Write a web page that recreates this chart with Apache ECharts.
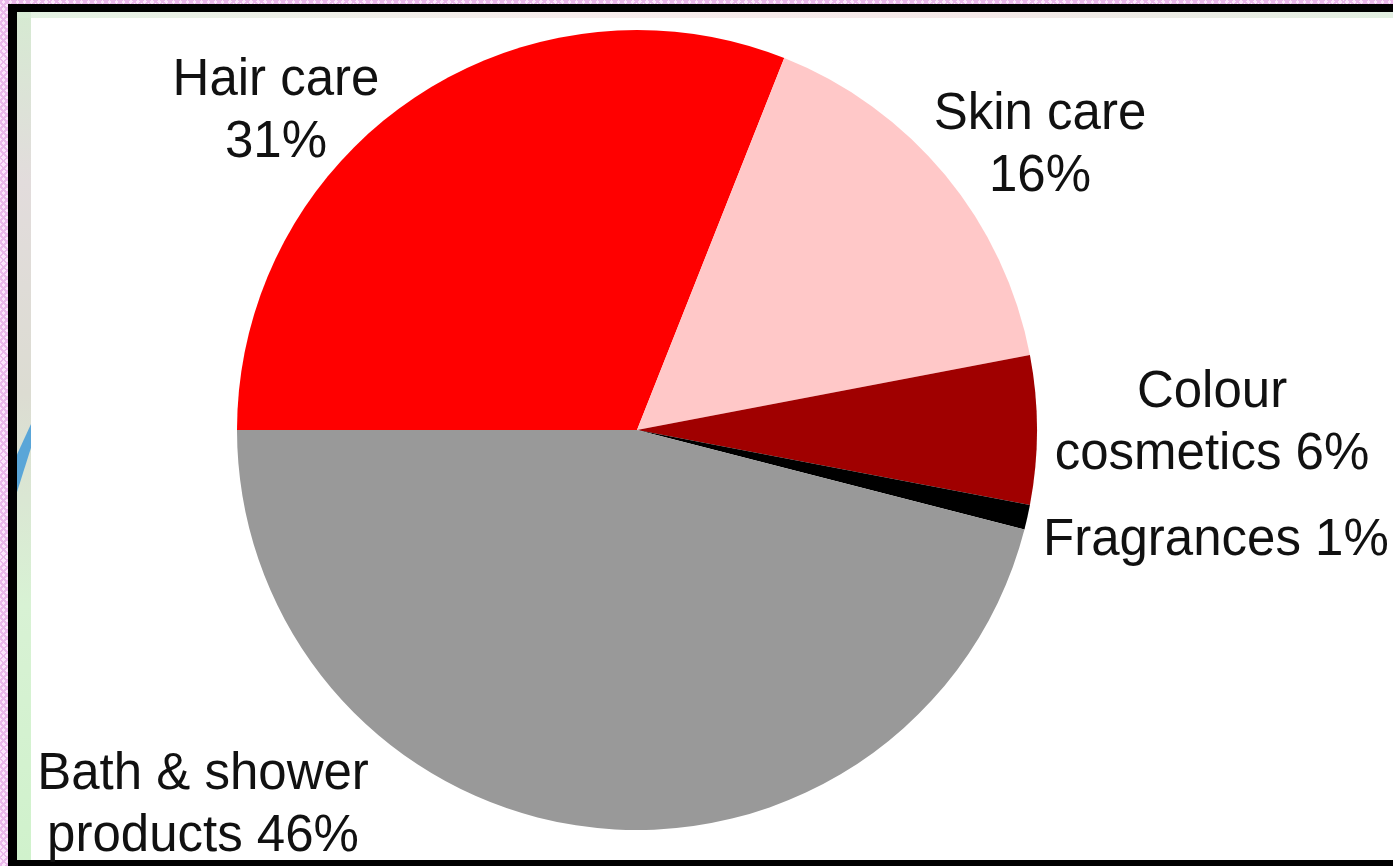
<!DOCTYPE html>
<html>
<head>
<meta charset="utf-8">
<script src="https://cdn.jsdelivr.net/npm/echarts@6/dist/echarts.min.js"></script>
<style>
  html, body { margin: 0; padding: 0; width: 1393px; height: 866px; overflow: hidden; }
  #bg { position: absolute; left: 0; top: 0; width: 1393px; height: 866px;
        background-color: #fbe6fb;
        background-image: repeating-linear-gradient(45deg, #eab8ea 0 2px, transparent 2px 5px),
                          repeating-linear-gradient(-45deg, #eab8ea 0 2px, transparent 2px 5px); }
  #frame { position: absolute; left: 8px; top: 4px; width: 1385px; height: 862px; box-sizing: border-box;
           border-left: 9px solid #000; border-top: 8px solid #000; border-bottom: 6px solid #000; background: #fff; }
  #strip { position: absolute; left: 17px; top: 12px; width: 14px; height: 848px;
           background: linear-gradient(to bottom, #d6ead2 0%, #e2dcdc 20%, #dcdcd2 45%, #d8f2d4 70%, #d0f2cc 100%); }
  #topstrip { position: absolute; left: 17px; top: 12px; width: 1376px; height: 6px;
           background: linear-gradient(to right, #d8ecd6, #f4e4e4 40%, #f0dede 70%, #d6e8d4); opacity: 0.7; }
  #blue { position: absolute; left: 17px; top: 424px; width: 14px; height: 68px; background: #5aa6d8;
          clip-path: polygon(100% 0, 100% 35%, 0 100%, 0 45%); }
  #chart { position: absolute; left: 0; top: 0; width: 1393px; height: 866px; }
</style>
</head>
<body>
<div id="bg"></div>
<div id="frame"></div>
<div id="strip"></div>
<div id="topstrip"></div>
<div id="blue"></div>
<div id="chart"></div>
<script>
const categories = ["Hair care", "Skin care", "Colour cosmetics", "Fragrances", "Bath & shower products"];
const values = [31, 16, 6, 1, 46];
const labelLines = [
  ["Hair care", "{v}%"],
  ["Skin care", "{v}%"],
  ["Colour", "cosmetics {v}%"],
  ["Fragrances {v}%"],
  ["Bath & shower", "products {v}%"]
];
const colors = ["#ff0000", "#ffc8c8", "#a00000", "#000000", "#999999"];

const labelPos = [
  { x: 276, y: 112, align: "center" },
  { x: 1040, y: 146, align: "center" },
  { x: 1212, y: 424, align: "center" },
  { x: 1043, y: 541, align: "left" },
  { x: 203, y: 806, align: "center" }
];

const chart = echarts.init(document.getElementById("chart"), null, { renderer: "canvas" });
chart.setOption({
  backgroundColor: "transparent",
  animation: false,
  series: [{
    type: "pie",
    center: [637, 430],
    radius: 400,
    startAngle: 180,
    clockwise: true,
    avoidLabelOverlap: false,
    data: categories.map((c, i) => ({ name: c, value: values[i], itemStyle: { color: colors[i] } })),
    itemStyle: { borderWidth: 0 },
    emphasis: { disabled: true },
    label: {
      show: true,
      position: "outside",
      fontFamily: "Liberation Sans, Arial, sans-serif",
      fontSize: 51,
      lineHeight: 62,
      color: "#111",
      align: "center",
      formatter: p => labelLines[p.dataIndex].map(s => s.replace("{v}", values[p.dataIndex])).join("\n")
    },
    labelLine: { show: false },
    labelLayout: p => ({
      x: labelPos[p.dataIndex].x,
      y: labelPos[p.dataIndex].y,
      align: labelPos[p.dataIndex].align,
      verticalAlign: "middle",
      hideOverlap: false
    })
  }]
});
</script>
</body>
</html>
